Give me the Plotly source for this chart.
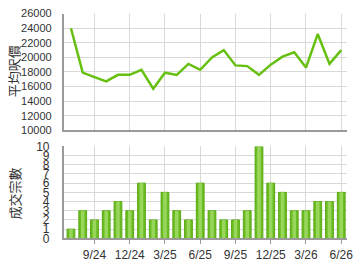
import plotly.graph_objects as go

months = ["7/24","8/24","9/24","10/24","11/24","12/24","1/25","2/25","3/25","4/25","5/25","6/25",
          "7/25","8/25","9/25","10/25","11/25","12/25","1/26","2/26","3/26","4/26","5/26","6/26"]
avg_price = [24000, 17900, 17300, 16700, 17600, 17600, 18300, 15700, 17900, 17600, 19100, 18300,
             20000, 21000, 18900, 18800, 17600, 19000, 20100, 20700, 18600, 23200, 19100, 21000]
deals = [1, 3, 2, 3, 4, 3, 6, 2, 5, 3, 2, 6, 3, 2, 2, 3, 10, 6, 5, 3, 3, 4, 4, 5]
tick_labels = ["9/24", "12/24", "3/25", "6/25", "9/25", "12/25", "3/26", "6/26"]
price_ticks = [10000, 12000, 14000, 16000, 18000, 20000, 22000, 24000, 26000]
deal_ticks = [0, 1, 2, 3, 4, 5, 6, 7, 8, 9, 10]

x = list(range(len(months)))
tick_vals = [months.index(t) for t in tick_labels]

fig = go.Figure()
fig.add_trace(go.Scatter(x=x, y=avg_price, mode="lines", line=dict(color="#66c010", width=2.5),
                         xaxis="x", yaxis="y", hoverinfo="skip"))
fig.add_trace(go.Bar(x=x, y=deals, width=0.66, marker=dict(color="#6cbd22", line=dict(color="#58a814", width=1)),
                     xaxis="x2", yaxis="y2", hoverinfo="skip"))
fig.add_trace(go.Bar(x=x, y=deals, width=0.3, marker=dict(color="#98d65c", line=dict(width=0)),
                     xaxis="x2", yaxis="y2", hoverinfo="skip"))

tickfont = dict(family="Liberation Sans, Arial", size=11, color="#333333")
narrowfont = dict(family="Liberation Sans Narrow, Liberation Sans, Arial", size=12, color="#333333")
xd = [65/360, 353/360]
rng = [-0.6, 23.5]
common_x = dict(range=rng, domain=xd, tickvals=tick_vals, showgrid=True, gridcolor="#d9d9d9", gridwidth=1,
                showline=True, linecolor="#9a9a9a", linewidth=2, zeroline=False, fixedrange=True)
fig.update_layout(
    width=360, height=270, margin=dict(l=0, r=0, t=0, b=0),
    paper_bgcolor="white", plot_bgcolor="white", showlegend=False, barmode="overlay",
    xaxis=dict(**common_x, anchor="y", ticktext=[""] * len(tick_vals), ticks=""),
    yaxis=dict(domain=[1-130/270, 1-7/270], range=[10000, 26000], tickvals=price_ticks,
               ticktext=[str(v) for v in price_ticks], ticklabelstandoff=8,
               showgrid=True, gridcolor="#d9d9d9", showline=True, linecolor="#9a9a9a", linewidth=2,
               zeroline=False, tickfont=tickfont, ticks="", anchor="x"),
    xaxis2=dict(**common_x, anchor="y2", ticktext=tick_labels, ticks="outside", ticklen=4, tickcolor="#9a9a9a",
                tickfont=dict(family="Liberation Sans, Arial", size=12, color="#333333")),
    yaxis2=dict(domain=[1-244/270, 1-147/270], range=[0, 10], tickvals=deal_ticks,
                ticktext=[str(v) for v in deal_ticks], ticklabelstandoff=10,
                showgrid=True, gridcolor="#d9d9d9", showline=True, linecolor="#9a9a9a", linewidth=2,
                zeroline=False, tickfont=narrowfont, ticks="", anchor="x2"),
    annotations=[
        dict(text="平均呎價", x=14/360, y=1-68/270, xref="paper", yref="paper", textangle=-90, showarrow=False,
             xanchor="center", yanchor="middle",
             font=dict(family="Noto Sans CJK TC", size=13, color="#333333")),
        dict(text="成交宗數", x=15/360, y=1-197/270, xref="paper", yref="paper", textangle=-90, showarrow=False,
             xanchor="center", yanchor="middle",
             font=dict(family="Noto Sans CJK TC", size=13, color="#333333")),
    ],
)
fig.write_html("out.html")
